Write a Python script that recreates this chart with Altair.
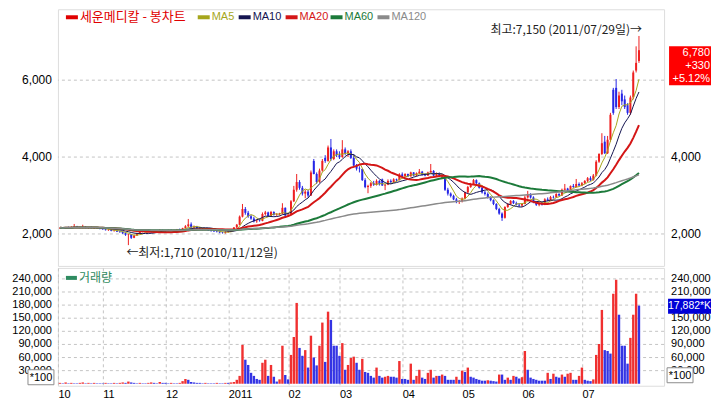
import altair as alt
import pandas as pd

# ---------------- data: daily candles (open, high, low, close) ----------------
OCT_2010 = [
    (2150, 2170, 2130, 2160), (2160, 2180, 2140, 2150), (2150, 2170, 2130, 2170),
    (2170, 2190, 2150, 2160), (2160, 2200, 2150, 2180), (2180, 2260, 2170, 2190),
    (2190, 2210, 2160, 2170), (2170, 2190, 2150, 2160), (2160, 2240, 2150, 2180),
    (2180, 2200, 2150, 2160), (2160, 2180, 2140, 2170), (2170, 2190, 2150, 2150),
    (2150, 2170, 2130, 2160), (2160, 2180, 2140, 2150), (2150, 2170, 2120, 2140),
]
NOV_2010 = [
    (2140, 2160, 2110, 2120), (2120, 2140, 2090, 2100), (2100, 2130, 2080, 2110),
    (2110, 2120, 2070, 2080), (2080, 2110, 2060, 2090), (2090, 2100, 2050, 2060),
    (2060, 2080, 2030, 2050), (2050, 2070, 2000, 2020), (2020, 2040, 1950, 1980),
    (1980, 2000, 1710, 1990), (1990, 2000, 1870, 1900), (1900, 1980, 1890, 1960),
    (1960, 2030, 1950, 2010), (2010, 2080, 2000, 2060), (2060, 2090, 2040, 2070),
    (2070, 2110, 2050, 2090), (2090, 2100, 2050, 2060), (2060, 2080, 2030, 2050),
    (2050, 2090, 2040, 2080), (2080, 2100, 2060, 2090), (2090, 2120, 2070, 2100),
    (2100, 2110, 2060, 2080),
]
DEC_2010 = [
    (2080, 2100, 2060, 2090), (2090, 2110, 2070, 2100), (2100, 2120, 2080, 2090),
    (2090, 2110, 2070, 2100), (2100, 2130, 2090, 2120), (2120, 2140, 2100, 2110),
    (2110, 2160, 2100, 2150), (2150, 2230, 2140, 2200), (2200, 2390, 2180, 2250),
    (2250, 2300, 2150, 2170), (2170, 2220, 2140, 2190), (2190, 2210, 2130, 2150),
    (2150, 2180, 2120, 2140), (2140, 2160, 2100, 2120), (2120, 2150, 2100, 2130),
    (2130, 2140, 2080, 2090), (2090, 2110, 2060, 2080), (2080, 2100, 2050, 2070),
    (2070, 2090, 2040, 2060), (2060, 2080, 2020, 2040), (2040, 2060, 2010, 2030),
    (2030, 2070, 2010, 2050),
]
JAN_2011 = [
    (2050, 2080, 2030, 2060), (2060, 2110, 2050, 2100), (2100, 2180, 2090, 2170),
    (2170, 2260, 2150, 2240), (2240, 2480, 2230, 2450), (2450, 2780, 2430, 2650),
    (2650, 2700, 2500, 2550), (2550, 2600, 2420, 2460), (2460, 2500, 2370, 2400),
    (2400, 2450, 2300, 2330), (2330, 2380, 2290, 2350), (2350, 2400, 2320, 2340),
    (2340, 2560, 2330, 2520), (2520, 2600, 2480, 2560), (2560, 2580, 2440, 2460),
    (2460, 2600, 2450, 2570), (2570, 2590, 2480, 2500), (2500, 2540, 2470, 2510),
    (2510, 2550, 2480, 2530), (2530, 2800, 2520, 2680), (2680, 2690, 2450, 2480),
]
FEB_2011 = [
    (2480, 2540, 2440, 2500), (2500, 2880, 2490, 2850), (2850, 3250, 2830, 3150),
    (3150, 3560, 3100, 3350), (3350, 3400, 3150, 3200), (3200, 3250, 3000, 3050),
    (3050, 3150, 2930, 3100), (3100, 3150, 2950, 3000), (3000, 3650, 2990, 3600),
    (3900, 3950, 3550, 3560), (3560, 3600, 3300, 3350), (3350, 3700, 3330, 3650),
    (3650, 3950, 3620, 3900), (3980, 4050, 3850, 3900), (3900, 4300, 3880, 4250),
    (4250, 4470, 3900, 3950), (3950, 4200, 3920, 4150), (4150, 4200, 4000, 4050),
]
MAR_2011 = [
    (4050, 4150, 3950, 4000), (4000, 4440, 3980, 4200), (4200, 4250, 4050, 4100),
    (4100, 4180, 4000, 4150), (4150, 4200, 3950, 3980), (3980, 4080, 3750, 3780),
    (3780, 3820, 3650, 3700), (3700, 3760, 3600, 3690), (3690, 3700, 3380, 3400),
    (3400, 3450, 3190, 3220), (3220, 3280, 3060, 3250), (3250, 3350, 3200, 3320),
    (3320, 3380, 3250, 3280), (3280, 3420, 3260, 3380), (3380, 3400, 3260, 3300),
    (3420, 3440, 3250, 3260), (3260, 3300, 3140, 3280), (3280, 3420, 3270, 3380),
    (3380, 3420, 3300, 3350), (3350, 3450, 3330, 3420), (3420, 3440, 3360, 3400),
    (3400, 3580, 3390, 3550),
]
APR_2011 = [
    (3550, 3600, 3480, 3500), (3500, 3580, 3470, 3560), (3560, 3570, 3480, 3500),
    (3500, 3620, 3490, 3600), (3600, 3610, 3500, 3520), (3520, 3600, 3500, 3580),
    (3580, 3690, 3560, 3620), (3620, 3640, 3520, 3540), (3540, 3580, 3500, 3520),
    (3520, 3620, 3510, 3600), (3600, 3820, 3590, 3640), (3640, 3660, 3500, 3520),
    (3520, 3600, 3510, 3580), (3580, 3600, 3500, 3530), (3450, 3520, 3430, 3500),
    (3500, 3510, 3120, 3150), (3150, 3200, 3000, 3050), (3050, 3080, 2950, 2990),
    (2990, 3020, 2880, 2900), (2900, 2940, 2800, 2830), (2830, 2880, 2780, 2850),
]
MAY_2011 = [
    (2850, 2950, 2820, 2920), (2920, 3100, 2900, 3080), (3080, 3250, 3060, 3220),
    (3220, 3330, 3200, 3300), (3300, 3430, 3280, 3400), (3400, 3420, 3300, 3320),
    (3320, 3340, 3180, 3200), (3200, 3230, 3050, 3080), (3080, 3120, 3000, 3040),
    (3040, 3080, 2920, 2950), (2950, 2980, 2850, 2880), (2880, 2900, 2750, 2780),
    (2780, 2800, 2620, 2650), (2650, 2680, 2500, 2530), (2530, 2560, 2340, 2420),
    (2420, 2720, 2400, 2700), (2700, 2800, 2680, 2780), (2780, 2880, 2760, 2860),
    (2860, 2880, 2780, 2800), (2800, 2840, 2740, 2760), (2760, 2800, 2700, 2740),
]
JUN_2011 = [
    (2740, 2800, 2700, 2780), (2780, 3000, 2770, 2950), (2950, 3120, 2920, 3040),
    (3040, 3060, 2920, 2950), (2950, 2980, 2800, 2820), (2820, 2850, 2730, 2760),
    (2760, 2800, 2720, 2780), (2780, 2820, 2740, 2760), (2760, 2930, 2750, 2900),
    (2900, 2950, 2850, 2880), (2880, 2990, 2870, 2960), (2960, 3000, 2920, 2950),
    (2950, 3060, 2940, 3040), (3040, 3060, 2980, 3000), (3000, 3180, 2990, 3150),
    (3150, 3300, 3130, 3180), (3180, 3200, 3110, 3130), (3130, 3260, 3120, 3250),
    (3250, 3300, 3200, 3220), (3220, 3430, 3210, 3300), (3300, 3340, 3240, 3260),
]
JUL_2011 = [
    (3260, 3350, 3240, 3320), (3320, 3400, 3300, 3380), (3380, 3480, 3350, 3450),
    (3450, 3500, 3380, 3400), (3400, 3560, 3390, 3520), (3520, 3920, 3500, 3880),
    (3880, 4100, 3850, 4080), (4080, 4620, 4050, 4360), (4400, 4550, 4080, 4100),
    (4100, 4550, 4080, 4450), (4450, 5150, 4400, 5100), (5750, 5800, 5100, 5150),
    (5800, 6030, 5250, 5300), (5300, 5700, 5250, 5600), (5650, 5750, 5350, 5450),
    (5500, 5600, 5250, 5300), (5350, 5400, 5100, 5150), (5150, 5600, 5100, 5550),
    (5550, 6250, 5500, 6200), (6250, 6880, 6200, 6450), (6500, 7150, 6450, 6780),
]

# daily volume, in thousands of the displayed unit (*100 shares)
VOL_OCT = [2, 1, 3, 1, 2, 1, 1, 2, 3, 1, 2, 1, 2, 1, 1]
VOL_NOV = [1, 2, 1, 1, 2, 1, 2, 3, 2, 5, 3, 2, 1, 2, 1, 1, 2, 3, 2, 1, 4, 2]
VOL_DEC = [2, 1, 2, 1, 1, 2, 6, 11, 9, 4, 3, 2, 2, 1, 2, 1, 1, 1, 2, 1, 1, 2]
VOL_JAN = [2, 3, 4, 9, 18, 89, 55, 43, 25, 18, 11, 9, 48, 55, 18, 43, 16, 5, 10, 87, 20]
VOL_FEB = [10, 66, 107, 185, 82, 64, 77, 37, 110, 60, 42, 87, 140, 50, 165, 146, 87, 87]
VOL_MAR = [64, 93, 32, 43, 59, 62, 48, 32, 57, 27, 25, 18, 14, 37, 18, 14, 16, 18, 16, 16, 14, 52]
VOL_APR = [11, 11, 9, 46, 9, 18, 32, 14, 11, 25, 32, 14, 18, 18, 21, 18, 9, 9, 9, 16, 9]
VOL_MAY = [30, 27, 37, 16, 14, 11, 9, 7, 7, 8, 7, 6, 5, 21, 21, 9, 14, 9, 18, 16, 12]
VOL_JUN = [15, 75, 32, 14, 11, 9, 7, 7, 7, 25, 11, 23, 16, 14, 21, 16, 23, 25, 9, 9, 18]
VOL_JUL = [37, 9, 7, 6, 10, 66, 91, 169, 77, 75, 69, 206, 238, 158, 87, 87, 46, 105, 158, 206, 178.82]

MONTH_LABELS = ["10", "11", "12", "2011", "02", "03", "04", "05", "06", "07"]
PRICE_TICKS = [2000, 4000, 6000]
PRICE_TICKS_RIGHT = [2000, 4000]          # 6,000 sits under the price box
VOL_TICKS = [30000, 60000, 90000, 120000, 150000, 180000, 210000, 240000]
VOL_TICKS_RIGHT = [30000, 60000, 90000, 120000, 150000, 210000, 240000]  # 180,000 under the box

SERIES_NAME = "세운메디칼 - 봉차트"
MA_NAMES = ["MA5", "MA10", "MA20", "MA60", "MA120"]
MA_WINDOWS = [5, 10, 20, 60, 120]
HIGH_DATE = "2011/07/29"
LOW_DATE = "2010/11/12"
VOL_NAME = "거래량"

# ---------------- styles ----------------
RED, BLUE = "#ee2020", "#2626e6"
VRED, VBLUE = "#f03030", "#3434e4"
SERIES_COLOR = "#e00000"
MA_COLORS = ["#a6a61c", "#141450", "#d41616", "#1c7a3a", "#8a8a8a"]
MA_WIDTHS = [1, 1, 2, 2, 1.5]
GRID_COLOR = "#c4c4c4"
NUM_FONT = "Liberation Sans"
KR_FONT = "Noto Sans CJK KR"

MONTHS = [OCT_2010, NOV_2010, DEC_2010, JAN_2011, FEB_2011, MAR_2011, APR_2011,
          MAY_2011, JUN_2011, JUL_2011]
VOLS = [VOL_OCT, VOL_NOV, VOL_DEC, VOL_JAN, VOL_FEB, VOL_MAR, VOL_APR,
        VOL_MAY, VOL_JUN, VOL_JUL]

rows = [c for m in MONTHS for c in m]
df = pd.DataFrame(rows, columns=["open", "high", "low", "close"])
df["i"] = range(len(df))
df["volume"] = [round(v * 1000) for m in VOLS for v in m]

month_starts = []
n = 0
for m in MONTHS:
    month_starts.append(n)
    n += len(m)

W, HP, HV = 607, 257, 118
LEFT = 49
X_DOMAIN = [-0.7, 211.8]
P_DOMAIN = [1169, 7844]
V_DOMAIN = [-4570, 265140]

tick_vals = [X_DOMAIN[0]] + month_starts[1:]
label_expr = "".join(
    f"datum.value == {v} ? '{lab}' : " for v, lab in zip(tick_vals, MONTH_LABELS)
) + "''"

xscale = alt.Scale(domain=X_DOMAIN, nice=False, zero=False, padding=0)
pscale = alt.Scale(domain=P_DOMAIN, nice=False, zero=False, padding=0)
vscale = alt.Scale(domain=V_DOMAIN, nice=False, zero=False, padding=0)
GRID = dict(grid=True, gridDash=[3, 3], gridColor=GRID_COLOR, gridWidth=1)

x_price = alt.X("i:Q", scale=xscale, title=None,
                axis=alt.Axis(values=tick_vals, labels=False, ticks=False, domain=False, **GRID))
x_plain = alt.X("i:Q", scale=xscale, title=None, axis=None)
x_vol = alt.X("i:Q", scale=xscale, title=None,
              axis=alt.Axis(values=tick_vals, labelExpr=label_expr, labelAlign="left",
                            labelFontSize=11, labelPadding=3, labelFont=NUM_FONT,
                            labelColor="#000", labelFlush=False, labelOverlap=False,
                            ticks=False, domain=False, **GRID))

dummy = alt.Data(values=[{"a": 1}])


def anchor():
    # invisible mark that reserves the left margin for the value labels
    return alt.Chart(dummy).mark_rect(opacity=0).encode(
        x=alt.value(-LEFT), x2=alt.value(-LEFT + 1), y=alt.value(20), y2=alt.value(21))


def value_axis(ticks, scale, side, size):
    d = pd.DataFrame({"v": ticks})
    if side == "left":
        m = alt.Chart(d).mark_text(align="right", baseline="middle", font=NUM_FONT,
                                   fontSize=size, color="#000")
        xv = alt.value(-6)
    else:
        m = alt.Chart(d).mark_text(align="left", baseline="middle", font=NUM_FONT,
                                   fontSize=size, color="#000")
        xv = alt.value(W + 7)
    return m.encode(x=xv, y=alt.Y("v:Q", scale=scale, axis=None),
                    text=alt.Text("v:Q", format=","))


def grid_rules(ticks, scale):
    return alt.Chart(pd.DataFrame({"v": ticks})).mark_rule(
        color=GRID_COLOR, strokeDash=[3, 3], strokeWidth=1
    ).encode(y=alt.Y("v:Q", scale=scale, axis=None))


# ---------------- price panel ----------------
base = alt.Chart(df)
candle_color = alt.condition("datum.close >= datum.open", alt.value(RED), alt.value(BLUE))

wicks = base.mark_rule(strokeWidth=1).encode(
    x=x_price,
    y=alt.Y("low:Q", scale=pscale, axis=None),
    y2="high:Q",
    color=candle_color,
)
bodies = base.mark_bar(size=2).encode(
    x=x_plain,
    y=alt.Y("open:Q", scale=pscale, axis=None),
    y2="close:Q",
    color=candle_color,
)

ma_layers = []
for name, win, col, sw in zip(MA_NAMES, MA_WINDOWS, MA_COLORS, MA_WIDTHS):
    ma_layers.append(
        base.transform_window(ma="mean(close)", frame=[-(win - 1), 0], sort=[alt.SortField("i")])
        .mark_line(color=col, strokeWidth=sw)
        .encode(x=x_plain, y=alt.Y("ma:Q", scale=pscale, axis=None))
    )

hi_i = int(df["high"].idxmax())
hi_p = int(df["high"].max())
lo_i = int(df["low"].idxmin())
lo_p = int(df["low"].min())
hi_df = pd.DataFrame({"i": [hi_i], "p": [hi_p], "t": [f"최고:{hi_p:,} ({HIGH_DATE}일)→"]})
lo_df = pd.DataFrame({"i": [lo_i], "p": [lo_p], "t": [f"←최저:{lo_p:,} ({LOW_DATE}일)"]})
hi_text = alt.Chart(hi_df).mark_text(
    align="right", baseline="middle", dx=3, dy=-6, font=KR_FONT, fontSize=12, color="#222"
).encode(x=x_plain, y=alt.Y("p:Q", scale=pscale, axis=None), text="t:N")
lo_text = alt.Chart(lo_df).mark_text(
    align="left", baseline="middle", dx=-2, dy=8, font=KR_FONT, fontSize=12, color="#222"
).encode(x=x_plain, y=alt.Y("p:Q", scale=pscale, axis=None), text="t:N")

last_close = int(df["close"].iloc[-1])
prev_close = int(df["close"].iloc[-2])
chg = last_close - prev_close
pct = chg / prev_close * 100
box_text = f"{last_close:,}\n{chg:+,}\n{pct:+.2f}%"
red_box = alt.Chart(dummy).mark_rect(color="#ff0000").encode(
    x=alt.value(W + 5), x2=alt.value(W + 47), y=alt.value(37), y2=alt.value(76))
red_txt = alt.Chart(pd.DataFrame({"p": [last_close], "t": [box_text]})).mark_text(
    align="right", baseline="top", dy=-3, lineBreak="\n", lineHeight=13,
    font=NUM_FONT, fontSize=11, color="#ffffff"
).encode(x=alt.value(W + 46), y=alt.Y("p:Q", scale=pscale, axis=None), text="t:N")

LEGEND_LABELS = [SERIES_NAME] + MA_NAMES
LEGEND_COLORS = [SERIES_COLOR] + MA_COLORS
LEGEND_X = [8, 140, 181, 228, 273, 320]
legend_layers = []
for lab, col, x0 in zip(LEGEND_LABELS, LEGEND_COLORS, LEGEND_X):
    legend_layers.append(alt.Chart(dummy).mark_rect(color=col).encode(
        x=alt.value(x0), x2=alt.value(x0 + 12), y=alt.value(6), y2=alt.value(10)))
    legend_layers.append(alt.Chart(dummy).mark_text(
        align="left", baseline="middle", text=lab, color=col,
        font=KR_FONT if lab == SERIES_NAME else NUM_FONT,
        fontSize=13 if lab == SERIES_NAME else 11
    ).encode(x=alt.value(x0 + 14), y=alt.value(8)))

price = alt.layer(
    anchor(), grid_rules(PRICE_TICKS, pscale), wicks, bodies, *ma_layers,
    value_axis(PRICE_TICKS, pscale, "left", 12), value_axis(PRICE_TICKS_RIGHT, pscale, "right", 12),
    hi_text, lo_text, red_box, red_txt, *legend_layers
).properties(width=W, height=HP)

# ---------------- volume panel ----------------
vol_color = alt.condition("datum.volume > datum.prev", alt.value(VRED), alt.value(VBLUE))
bars = alt.Chart(df).transform_window(
    prev="lag(volume)", sort=[alt.SortField("i")]
).mark_bar(size=2.4).encode(
    x=x_vol,
    y=alt.Y("volume:Q", scale=vscale, axis=None),
    color=vol_color,
)

last_vol = int(df["volume"].iloc[-1])
vol_label = f"{last_vol * 100 // 1000:,}*K"
blue_box = alt.Chart(dummy).mark_rect(color="#0000d8").encode(
    x=alt.value(W + 4), x2=alt.value(W + 47), y=alt.value(31), y2=alt.value(46))
blue_txt = alt.Chart(pd.DataFrame({"v": [last_vol], "t": [vol_label]})).mark_text(
    align="center", baseline="middle", font=NUM_FONT, fontSize=10.5, color="#ffffff"
).encode(x=alt.value(W + 25.5), y=alt.Y("v:Q", scale=vscale, axis=None), text="t:N")


def unit_box(x0, y0):
    box = alt.Chart(dummy).mark_rect(fill="#ffffff", stroke="#8c8c8c", strokeWidth=1).encode(
        x=alt.value(x0), x2=alt.value(x0 + 26), y=alt.value(y0), y2=alt.value(y0 + 15))
    txt = alt.Chart(dummy).mark_text(
        align="center", baseline="middle", text="*100", font=NUM_FONT, fontSize=11, color="#000"
    ).encode(x=alt.value(x0 + 13), y=alt.value(y0 + 8))
    return [box, txt]


vol_leg = [
    alt.Chart(dummy).mark_rect(color="#2e8b60").encode(
        x=alt.value(8), x2=alt.value(19), y=alt.value(8), y2=alt.value(12)),
    alt.Chart(dummy).mark_text(align="left", baseline="middle", text=VOL_NAME,
                               color="#2e8b60", font=KR_FONT, fontSize=12).encode(
        x=alt.value(21), y=alt.value(10)),
]

volume = alt.layer(
    anchor(), grid_rules(VOL_TICKS, vscale), bars,
    value_axis(VOL_TICKS, vscale, "left", 11), value_axis(VOL_TICKS_RIGHT, vscale, "right", 11),
    blue_box, blue_txt, *unit_box(-30, 102), *unit_box(W + 3, 100), *vol_leg
).properties(width=W, height=HV)

chart = alt.vconcat(price, volume, spacing=0).properties(
    padding={"left": 0, "top": 0, "right": 0, "bottom": 0}
).configure_view(stroke="#9a9a9a", strokeWidth=1).configure(background="#ffffff")

chart.save("out.html", embed_options={"renderer": "svg", "actions": False})
